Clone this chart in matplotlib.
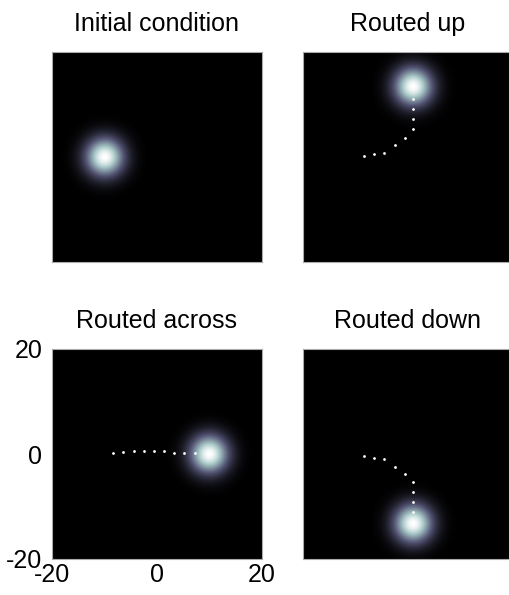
"""
Four-panel figure: Gaussian bump of activity routed in different directions.
"""

import numpy as np
import matplotlib.pyplot as plt

plt.rcParams["font.family"] = ["Liberation Sans", "DejaVu Sans"]
plt.rcParams["axes.unicode_minus"] = False

titles = ["Initial condition", "Routed up", "Routed across", "Routed down"]

# bump centres (x, y)
centre_x = [-10, 1, 10, 1]
centre_y = [0, 13.5, 0, -13.3]
bump_sigma = 2.6

# trail of the bump centre for each panel (empty for the initial condition)
trail_x = [
    [],
    [-8.4, -6.4, -4.5, -2.5, -0.6, 0.9, 0.9, 0.9, 0.9],
    [-8.4, -6.4, -4.4, -2.5, -0.6, 1.3, 3.3, 5.2, 7.3],
    [-8.4, -6.4, -4.5, -2.5, -0.6, 0.9, 0.9, 0.9, 0.9],
]
trail_y = [
    [],
    [0.1, 0.5, 0.8, 2.2, 3.7, 5.3, 7.2, 9.1, 11.0],
    [0.2, 0.4, 0.5, 0.5, 0.5, 0.5, 0.2, 0.1, 0.1],
    [-0.3, -0.7, -1.0, -2.4, -3.8, -5.4, -7.3, -9.2, -11.1],
]

grid = np.linspace(-20, 20, 201)
X, Y = np.meshgrid(grid, grid)

fig = plt.figure(figsize=(5.09, 5.95), dpi=100)
W, H = 509, 595
boxes = [(52, 52), (303, 52), (52, 349), (303, 349)]  # left, top in pixels

for i, (left, top) in enumerate(boxes):
    ax = fig.add_axes([left / W, 1 - (top + 210) / H, 210 / W, 210 / H])
    field = np.exp(-((X - centre_x[i]) ** 2 + (Y - centre_y[i]) ** 2) / (2 * bump_sigma ** 2))
    ax.imshow(field, cmap="bone", origin="lower", extent=[-20, 20, -20, 20],
              vmin=0, vmax=1.0, interpolation="bilinear")
    if trail_x[i]:
        ax.plot(trail_x[i], trail_y[i], linestyle="none", marker="o",
                markersize=2.0, color="white", markeredgewidth=0)
    ax.set_xlim(-20, 20)
    ax.set_ylim(-20, 20)
    ax.set_title(titles[i], fontsize=18, pad=15)
    for s in ax.spines.values():
        s.set_color("#aaaaaa")
        s.set_linewidth(0.8)
    if i == 2:
        ax.set_xticks([-20, 0, 20])
        ax.set_yticks([-20, 0, 20])
        ax.tick_params(direction="in", length=0, labelsize=18)
        ax.tick_params(axis="x", pad=3)
        ax.tick_params(axis="y", pad=7)
    else:
        ax.set_xticks([])
        ax.set_yticks([])

plt.savefig("out.png", dpi=100)
